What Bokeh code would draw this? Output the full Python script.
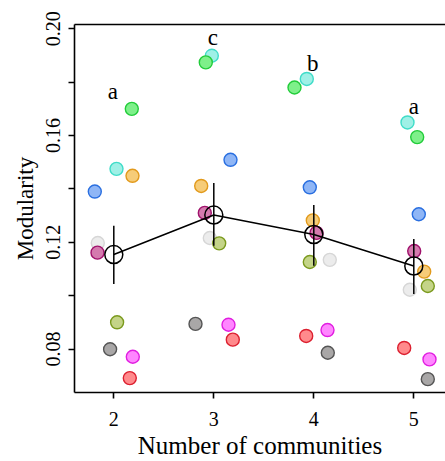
from bokeh.plotting import figure
from bokeh.models import Range1d, FixedTicker, LinearAxis
from bokeh.core.properties import value
from bokeh.embed import file_html
from bokeh.resources import INLINE

# ---- data ----
communities = [2, 3, 4, 5]
x_tick_labels = ["2", "3", "4", "5"]
y_tick_values = [0.08, 0.12, 0.16, 0.20]
y_minor_values = [0.10, 0.14, 0.18]

blue_x = [1.81, 3.167, 3.96, 5.05]
blue_y = [0.1390, 0.1509, 0.1406, 0.1305]
cyan_x = [2.027, 2.98, 3.93, 4.937]
cyan_y = [0.1475, 0.1899, 0.1812, 0.1649]
green_x = [2.18, 2.92, 3.807, 5.034]
green_y = [0.1700, 0.1874, 0.1780, 0.1594]
orange_x = [2.187, 2.874, 3.99, 5.104]
orange_y = [0.1449, 0.1411, 0.1282, 0.1090]
lightgrey_x = [1.84, 2.96, 4.16, 4.96]
lightgrey_y = [0.1197, 0.1216, 0.1134, 0.1022]
maroon_x = [1.837, 2.91, 4.027, 5.004]
maroon_y = [0.1161, 0.1310, 0.1235, 0.1167]
olive_x = [2.033, 3.054, 3.96, 5.14]
olive_y = [0.0900, 0.1196, 0.1126, 0.1036]
darkgrey_x = [1.963, 2.817, 4.14, 5.14]
darkgrey_y = [0.0799, 0.0894, 0.0786, 0.0687]
magenta_x = [2.19, 3.147, 4.137, 5.157]
magenta_y = [0.0771, 0.0891, 0.0871, 0.0761]
red_x = [2.16, 3.19, 3.924, 4.904]
red_y = [0.0691, 0.0835, 0.0849, 0.0804]

mean_y = [0.1154, 0.1302, 0.1229, 0.1111]
err_low = [0.1044, 0.1187, 0.1112, 0.1006]
err_high = [0.1262, 0.1422, 0.1340, 0.1212]

letters = ["a", "c", "b", "a"]
letter_x = [1.99, 2.99, 3.99, 5.0]
letter_y = [0.1764, 0.1968, 0.1871, 0.1708]

x_title = "Number of communities"
y_title = "Modularity"

series = [
    (blue_x, blue_y, "#2a6fe0", "#8fb6f6"),
    (cyan_x, cyan_y, "#3fdcc8", "#9ff0e6"),
    (green_x, green_y, "#22cc3a", "#7ef08a"),
    (orange_x, orange_y, "#e29a1c", "#f6cc78"),
    (lightgrey_x, lightgrey_y, "#d6d6d6", "#ececec"),
    (maroon_x, maroon_y, "#a0126c", "#d47aae"),
    (olive_x, olive_y, "#7b9a1e", "#c4d488"),
    (darkgrey_x, darkgrey_y, "#555555", "#a9a7a7"),
    (magenta_x, magenta_y, "#e01ee0", "#ff86ff"),
    (red_x, red_y, "#dc2030", "#ff8a8c"),
]

FONT = "Liberation Serif"

p = figure(width=445, height=461, output_backend="svg", toolbar_location=None,
           x_range=Range1d(1.607, 5.317), y_range=Range1d(0.0637, 0.2016),
           min_border_left=74, min_border_right=0, min_border_top=24, min_border_bottom=69)
p.grid.visible = False
p.outline_line_color = None
p.background_fill_color = "white"
p.border_fill_color = "white"

for xs, ys, lc, fc in series:
    p.scatter(xs, ys, size=13, fill_color=fc, line_color=lc, line_width=1.4)

# error bars, mean line, mean circles
p.segment(x0=communities, y0=err_low, x1=communities, y1=err_high, line_color="black", line_width=1.5)
p.line(communities, mean_y, line_color="black", line_width=1.5)
p.scatter(communities, mean_y, size=18, fill_color=None, line_color="black", line_width=1.5)

p.text(letter_x, letter_y, text=letters, text_font=value(FONT), text_font_size="23px",
       text_align="center", text_baseline="middle", text_color="black")

# axes
xa = p.xaxis[0]
xa.ticker = FixedTicker(ticks=communities)
xa.major_label_overrides = {c: l for c, l in zip(communities, x_tick_labels)}
xa.axis_label = x_title
ya = p.yaxis[0]
ya.ticker = FixedTicker(ticks=y_tick_values, minor_ticks=y_minor_values)
ya.major_label_overrides = {0.08: "0.08", 0.12: "0.12", 0.16: "0.16", 0.2: "0.20"}
ya.major_label_orientation = "vertical"
ya.axis_label = y_title

for ax in (xa, ya):
    ax.axis_line_width = 1.6
    ax.axis_line_color = "black"
    ax.major_tick_line_width = 1.6
    ax.minor_tick_line_width = 1.6
    ax.major_tick_out = 6
    ax.major_tick_in = 0
    ax.minor_tick_out = 6
    ax.minor_tick_in = 0
    ax.major_label_text_font = FONT
    ax.major_label_text_font_size = "20px"
    ax.major_label_text_color = "black"
    ax.axis_label_text_font = FONT
    ax.axis_label_text_font_style = "normal"
    ax.axis_label_text_color = "black"
xa.axis_label_text_font_size = "25px"
ya.axis_label_text_font_size = "23px"
xa.minor_tick_line_color = None
xa.major_label_standoff = 13
xa.axis_label_standoff = 3
ya.major_label_standoff = 8
ya.axis_label_standoff = 6

top = LinearAxis(ticker=FixedTicker(ticks=[]), major_label_text_font_size="0px",
                 axis_line_width=1.6, axis_line_color="black",
                 major_tick_line_color=None, minor_tick_line_color=None)
p.add_layout(top, "above")

open("out.html", "w").write(file_html(p, INLINE))
